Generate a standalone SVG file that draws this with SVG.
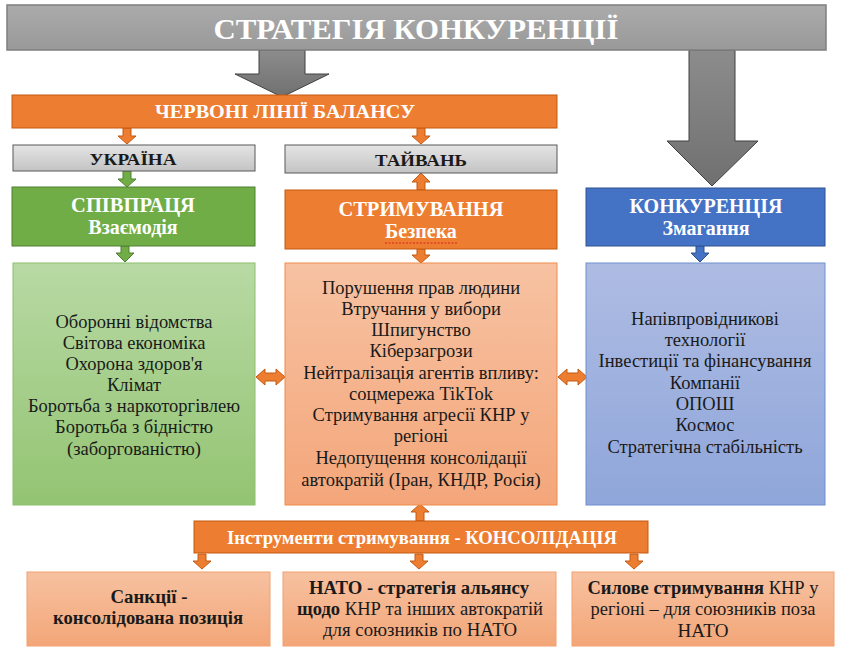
<svg xmlns="http://www.w3.org/2000/svg" width="841" height="653" viewBox="0 0 841 653">
<defs>
<style>
.t{text-anchor:middle}
.w{fill:#fff;font-weight:bold}
.k{fill:#1a1a1a}
.b{font-weight:bold}
.body{font-size:18.5px;fill:#1a1a1a}
.or{fill:#ed7d31;stroke:#c55a11;stroke-width:1}
.gr{fill:#70ad47;stroke:#507e32;stroke-width:1}
.bl{fill:#4472c4;stroke:#2f528f;stroke-width:1}
.gy{fill:url(#gGray);stroke:#595959;stroke-width:1}
.bigA{fill:url(#gArrow);stroke:#404040;stroke-width:1}
.oa{fill:#ed7d31;stroke:#c55a11;stroke-width:1}
.ga{fill:#70ad47;stroke:#507e32;stroke-width:1}
.ba{fill:#4472c4;stroke:#2f528f;stroke-width:1}
</style>
<linearGradient id="gGray" x1="0" y1="0" x2="0" y2="1"><stop offset="0" stop-color="#e4e4e4"/><stop offset="1" stop-color="#c4c4c4"/></linearGradient>
<linearGradient id="gArrow" x1="0" y1="0" x2="0" y2="1"><stop offset="0" stop-color="#8c8c8c"/><stop offset="1" stop-color="#707070"/></linearGradient>
<linearGradient id="gTitle" x1="0" y1="0" x2="0" y2="1"><stop offset="0" stop-color="#ababab"/><stop offset="1" stop-color="#999999"/></linearGradient>
<linearGradient id="gGreen" x1="0" y1="0" x2="0" y2="1"><stop offset="0" stop-color="#b8d9a4"/><stop offset="1" stop-color="#93c472"/></linearGradient>
<linearGradient id="gOrange" x1="0" y1="0" x2="0" y2="1"><stop offset="0" stop-color="#f7c2a2"/><stop offset="1" stop-color="#f4a67a"/></linearGradient>
<linearGradient id="gBlue" x1="0" y1="0" x2="0" y2="1"><stop offset="0" stop-color="#aebce3"/><stop offset="1" stop-color="#8fa6da"/></linearGradient>
<linearGradient id="gBot" x1="0" y1="0" x2="0" y2="1"><stop offset="0" stop-color="#f7c1a0"/><stop offset="1" stop-color="#f3a678"/></linearGradient>
</defs>

<g font-family="Liberation Serif, Times New Roman, serif">
<g id="connectors">
  <polygon class="bigA" points="259,50 305,50 305,74 329,74 282,97 235,74 259,74"/>
  <polygon class="bigA" points="689,50 735,50 735,141 758,141 712,186 667,141 689,141"/>
  <polygon class="oa" points="123,128 131,128 131,136 136,136 127,144 118,136 123,136"/>
  <polygon class="oa" points="417,128 425,128 425,136 430,136 421,144 412,136 417,136"/>
  <polygon class="ga" points="123,171 131,171 131,179 136,179 127,187 118,179 123,179"/>
  <polygon class="oa" points="417,190 425,190 425,182 430,182 421,173 412,182 417,182"/>
  <polygon class="ga" points="121,246 129,246 129,253 134,253 125,262 116,253 121,253"/>
  <polygon class="oa" points="417,249 425,249 425,255 430,255 421,263 412,255 417,255"/>
  <polygon class="ba" points="696,246 704,246 704,253 709,253 700,262 691,253 696,253"/>
  <polygon class="oa" points="256,377 265,369 265,373 276,373 276,369 285,377 276,385 276,381 265,381 265,385"/>
  <polygon class="oa" points="558,377 567,369 567,373 578,373 578,369 587,377 578,385 578,381 567,381 567,385"/>
  <polygon class="oa" points="416,521 424,521 424,512 429,512 420,504 411,512 416,512"/>
  <polygon class="oa" points="198,554 206,554 206,561 211,561 202,569 193,561 198,561"/>
  <polygon class="oa" points="415,554 423,554 423,561 428,561 419,569 410,561 415,561"/>
  <polygon class="oa" points="630,554 638,554 638,561 643,561 634,569 625,561 630,561"/>
</g>

<g id="title">
  <rect x="7" y="5" width="819" height="45" fill="url(#gTitle)" stroke="#7f7f7f" stroke-width="1.5"/>
  <text class="t w" x="416" y="39" font-size="29" textLength="405" lengthAdjust="spacingAndGlyphs">СТРАТЕГІЯ КОНКУРЕНЦІЇ</text>
</g>

<g id="red-lines">
  <rect class="or" x="12" y="95" width="545" height="33"/>
  <text class="t w" x="285" y="118" font-size="18" textLength="260" lengthAdjust="spacingAndGlyphs">ЧЕРВОНІ ЛІНІЇ БАЛАНСУ</text>
</g>

<g id="ukraine">
  <rect class="gy" x="13" y="145" width="242" height="26"/>
  <text class="t k b" x="133" y="165" font-size="17" textLength="87" lengthAdjust="spacingAndGlyphs">УКРАЇНА</text>
</g>

<g id="taiwan">
  <rect class="gy" x="285" y="145" width="272" height="28"/>
  <text class="t k b" x="421" y="166" font-size="17" textLength="92" lengthAdjust="spacingAndGlyphs">ТАЙВАНЬ</text>
</g>

<g id="cooperation">
  <rect class="gr" x="12" y="187" width="243" height="59"/>
  <text class="t w" x="133" y="212" font-size="20.5">СПІВПРАЦЯ</text>
  <text class="t w" x="133" y="234" font-size="20">Взаємодія</text>
</g>

<g id="containment">
  <rect class="or" x="285" y="190" width="272" height="59"/>
  <text class="t w" x="421" y="216" font-size="20.5">СТРИМУВАННЯ</text>
  <text class="t w" x="421" y="238" font-size="20">Безпека</text>
  <line x1="385" y1="243" x2="458" y2="243" stroke="#e02020" stroke-width="1.2" stroke-dasharray="2,1.5"/>
</g>

<g id="competition">
  <rect class="bl" x="586" y="188" width="239" height="58"/>
  <text class="t w" x="706" y="213" font-size="20">КОНКУРЕНЦІЯ</text>
  <text class="t w" x="706" y="235" font-size="20">Змагання</text>
</g>

<g id="coop-items">
  <rect x="13" y="263" width="242" height="242" fill="url(#gGreen)" stroke="#8cbf6c" stroke-width="1"/>
  <text class="t body" x="134" y="328">Оборонні відомства</text>
  <text class="t body" x="134" y="349">Світова економіка</text>
  <text class="t body" x="134" y="370">Охорона здоров'я</text>
  <text class="t body" x="134" y="391">Клімат</text>
  <text class="t body" x="134" y="412">Боротьба з наркоторгівлею</text>
  <text class="t body" x="134" y="433">Боротьба з бідністю</text>
  <text class="t body" x="134" y="455">(заборгованістю)</text>
</g>

<g id="contain-items">
  <rect x="285" y="263" width="272" height="242" fill="url(#gOrange)" stroke="#f08a4b" stroke-width="1"/>
  <text class="t body" x="421" y="294">Порушення прав людини</text>
  <text class="t body" x="421" y="315">Втручання у вибори</text>
  <text class="t body" x="421" y="336">Шпигунство</text>
  <text class="t body" x="421" y="357">Кіберзагрози</text>
  <text class="t body" x="421" y="379">Нейтралізація агентів впливу:</text>
  <text class="t body" x="421" y="400">соцмережа TikTok</text>
  <text class="t body" x="421" y="421">Стримування агресії КНР у</text>
  <text class="t body" x="421" y="442">регіоні</text>
  <text class="t body" x="421" y="464">Недопущення консолідації</text>
  <text class="t body" x="421" y="486">автократій (Іран, КНДР, Росія)</text>
</g>

<g id="compete-items">
  <rect x="586" y="263" width="239" height="242" fill="url(#gBlue)" stroke="#6f8fd0" stroke-width="1"/>
  <text class="t body" x="705" y="325">Напівпровідникові</text>
  <text class="t body" x="705" y="346">технології</text>
  <text class="t body" x="705" y="367">Інвестиції та фінансування</text>
  <text class="t body" x="705" y="389">Компанії</text>
  <text class="t body" x="705" y="410">ОПОШ</text>
  <text class="t body" x="705" y="431">Космос</text>
  <text class="t body" x="705" y="453">Стратегічна стабільність</text>
</g>

<g id="tools">
  <rect class="or" x="194" y="521" width="454" height="32"/>
  <text class="t w" x="422" y="544" font-size="18" textLength="390" lengthAdjust="spacingAndGlyphs">Інструменти стримування - КОНСОЛІДАЦІЯ</text>
</g>

<g id="sanctions">
  <rect x="27" y="572" width="243" height="74" fill="url(#gBot)" stroke="#f2a071" stroke-width="1"/>
  <text class="t k b" x="149" y="603" font-size="18" textLength="77" lengthAdjust="spacingAndGlyphs">Санкції -</text>
  <text class="t k b" x="148" y="624" font-size="18" textLength="190" lengthAdjust="spacingAndGlyphs">консолідована позиція</text>
</g>

<g id="nato">
  <rect x="283" y="572" width="273" height="74" fill="url(#gBot)" stroke="#f2a071" stroke-width="1"/>
  <text class="t k" x="419" y="594" font-size="18" font-weight="bold" textLength="220" lengthAdjust="spacingAndGlyphs">НАТО - стратегія альянсу</text>
  <text class="t k" x="420" y="615" font-size="18" textLength="246" lengthAdjust="spacingAndGlyphs"><tspan font-weight="bold">щодо</tspan> КНР та інших автократій</text>
  <text class="t k" x="420" y="636" font-size="18" textLength="194" lengthAdjust="spacingAndGlyphs">для союзників по НАТО</text>
</g>

<g id="force">
  <rect x="572" y="572" width="262" height="74" fill="url(#gBot)" stroke="#f2a071" stroke-width="1"/>
  <text class="t k" x="703" y="594" font-size="18" textLength="231" lengthAdjust="spacingAndGlyphs"><tspan font-weight="bold">Силове стримування</tspan> КНР у</text>
  <text class="t k" x="703" y="615" font-size="18" textLength="225" lengthAdjust="spacingAndGlyphs">регіоні – для союзників поза</text>
  <text class="t k" x="703" y="637" font-size="18" textLength="51" lengthAdjust="spacingAndGlyphs">НАТО</text>
</g>
</g>
</svg>
